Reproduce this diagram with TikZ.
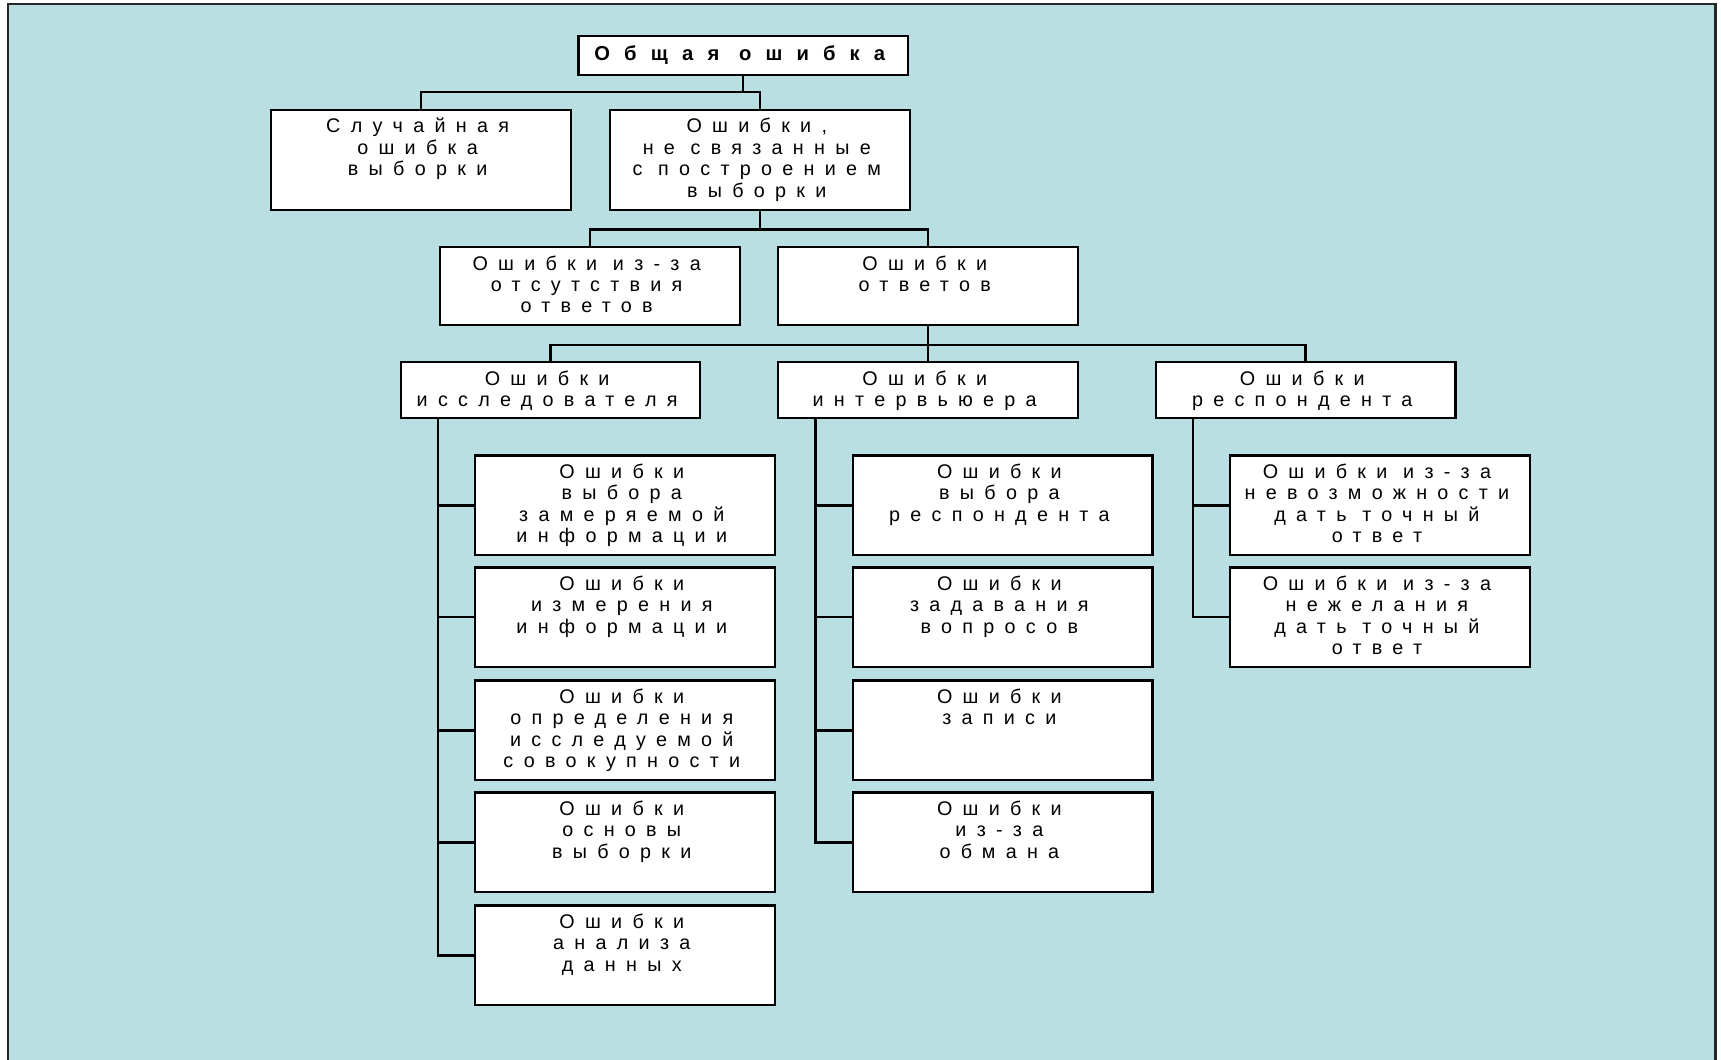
\documentclass[tikz,border=0pt]{standalone}
\usepackage{fontspec}
\setmainfont{Liberation Sans}
\newfontfamily\spfont[LetterSpace=52]{Liberation Sans}
\newfontfamily\spbold[LetterSpace=70]{Liberation Sans}
\usetikzlibrary{fit}
\definecolor{bgblue}{RGB}{186,223,226}
\tikzset{
  box/.style={draw=black, fill=white, line width=1pt, inner sep=0pt},
  lbl/.style={inner sep=0pt, font=\spfont\fontsize{9}{9.75}\selectfont},
  conn/.style={draw=black, line width=1pt},
}
\newcommand\mkbox[6]{%
  \node[box, fit={(#2,#3) (#4,#5)}] (#1) {};
  \node[lbl, anchor=base, xshift=-1.5pt] (#1t) at ({(#2+#4)/2}, #3+21) {\parbox[t]{135pt}{\centering #6}};
}
\begin{document}
\begin{tikzpicture}[x=0.5pt, y=-0.5pt]
\useasboundingbox (0,0) rectangle (1568,965);
\fill[white] (0,0) rectangle (1568,965);
\filldraw[fill=bgblue, draw=black!85, line width=1pt] (7,4) rectangle (1563,975);

% top
\node[box, fit={(527,33) (827,68)}] (g) {};
\node[inner sep=0pt, xshift=-1.5pt, font=\spbold\bfseries\fontsize{9.2}{9.75}\selectfont] (gt) at (g.center) {Общая ошибка};

\mkbox{c1}{247}{100}{520}{191}{Случайная\\ошибка\\выборки}
\mkbox{c2}{556}{100}{829}{191}{Ошибки,\\не связанные\\с построением\\выборки}

\mkbox{d1}{401}{225}{674}{296}{Ошибки из-за\\отсутствия\\ответов}
\mkbox{d2}{709}{225}{982}{296}{Ошибки\\ответов}

\mkbox{e1}{365}{330}{638}{381}{Ошибки\\исследователя}
\mkbox{e2}{709}{330}{982}{381}{Ошибки\\интервьюера}
\mkbox{e3}{1053}{330}{1326}{381}{Ошибки\\респондента}

\mkbox{k1}{433}{415}{706}{506}{Ошибки\\выбора\\замеряемой\\информации}
\mkbox{k2}{433}{517}{706}{608}{Ошибки\\измерения\\информации}
\mkbox{k3}{433}{620}{706}{711}{Ошибки\\определения\\исследуемой\\совокупности}
\mkbox{k4}{433}{722}{706}{813}{Ошибки\\основы\\выборки}
\mkbox{k5}{433}{825}{706}{916}{Ошибки\\анализа\\данных}

\mkbox{m1}{777}{415}{1050}{506}{Ошибки\\выбора\\респондента}
\mkbox{m2}{777}{517}{1050}{608}{Ошибки\\задавания\\вопросов}
\mkbox{m3}{777}{620}{1050}{711}{Ошибки\\записи}
\mkbox{m4}{777}{722}{1050}{813}{Ошибки\\из-за\\обмана}

\mkbox{n1}{1121}{415}{1394}{506}{Ошибки из-за\\невозможности\\дать точный\\ответ}
\mkbox{n2}{1121}{517}{1394}{608}{Ошибки из-за\\нежелания\\дать точный\\ответ}

\coordinate (h1) at (0,84);
\coordinate (h2) at (0,209);
\coordinate (h3) at (0,314);
\coordinate (t1) at (399,0);
\coordinate (t2) at (743,0);
\coordinate (t3) at (1087,0);

\draw[conn] (g.south) -- (g.south |- h1);
\draw[conn] (c1.north) -- (c1.north |- h1) -- (c2.north |- h1) -- (c2.north);
\draw[conn] (c2.south) -- (c2.south |- h2);
\draw[conn] (d1.north) -- (d1.north |- h2) -- (d2.north |- h2) -- (d2.north);
\draw[conn] (d2.south) -- (e2.north);
\draw[conn] (e1.north) -- (e1.north |- h3) -- (e3.north |- h3) -- (e3.north);

\draw[conn] (e1.south -| t1) -- (t1 |- k5.west) -- (k5.west);
\foreach \k in {k1,k2,k3,k4} \draw[conn] (t1 |- \k.west) -- (\k.west);
\draw[conn] (e2.south -| t2) -- (t2 |- m4.west) -- (m4.west);
\foreach \k in {m1,m2,m3} \draw[conn] (t2 |- \k.west) -- (\k.west);
\draw[conn] (e3.south -| t3) -- (t3 |- n2.west) -- (n2.west);
\draw[conn] (t3 |- n1.west) -- (n1.west);
\end{tikzpicture}
\end{document}
